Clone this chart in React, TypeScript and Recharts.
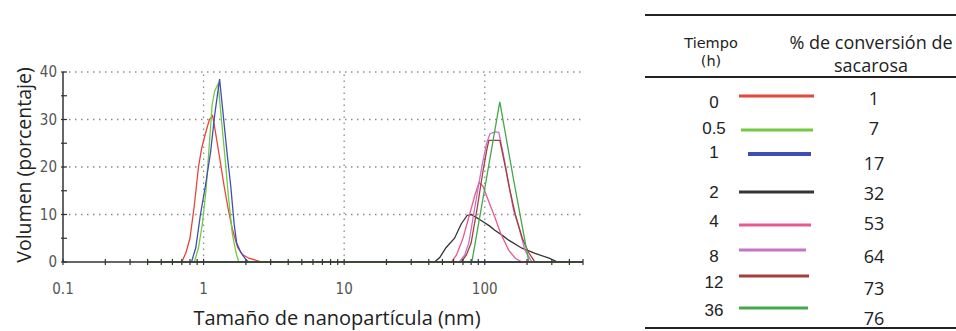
import { LineChart, Line, XAxis, YAxis, ReferenceLine } from "recharts";

// time (h) and sucrose conversion (%) for the legend table
const times = ["0", "0.5", "1", "2", "4", "8", "12", "36"];
const conversions = ["1", "7", "17", "32", "53", "64", "73", "76"];
const colors = ["#e5463a", "#74c944", "#3e4fb4", "#363636", "#ea5890", "#c774c4", "#a3403c", "#45a84c"];

// particle size (nm) and volume (%) per series
const h0Size = [0.4, 0.7, 0.75, 0.8, 0.86, 0.92, 0.97, 1.03, 1.1, 1.16, 1.22, 1.3, 1.4, 1.5, 1.6, 1.75, 1.9, 2.1, 2.4, 2.6, 500];
const h0Vol = [0, 0, 2, 5, 12, 20, 24, 27, 30, 30.8, 27, 22, 16, 11, 7, 3, 1.5, 0.8, 0.3, 0, 0];
const h05Size = [0.4, 0.86, 0.92, 0.98, 1.04, 1.1, 1.15, 1.2, 1.27, 1.33, 1.42, 1.5, 1.6, 1.7, 1.78, 500];
const h05Vol = [0, 0, 3, 8, 15, 25, 33, 36, 37.5, 31, 22, 14, 6, 2, 0, 0];
const h1Size = [0.4, 0.82, 0.88, 0.95, 1.03, 1.12, 1.2, 1.3, 1.39, 1.48, 1.56, 1.65, 1.72, 1.84, 2.0, 2.1, 500];
const h1Vol = [0, 0, 3, 10, 16, 23, 31, 38.5, 30, 22, 16, 8, 4, 2, 0.5, 0, 0];
const h2Size = [0.4, 44, 48, 53, 61, 68, 75, 80, 88, 95, 108, 118, 135, 148, 184, 228, 287, 330, 500];
const h2Vol = [0, 0, 1, 3, 5, 8, 9.8, 10, 9.3, 8.7, 7.6, 6.7, 5.5, 4.6, 2.9, 1.8, 0.8, 0, 0];
const h4Size = [0.4, 58, 63, 70, 78, 85, 91, 97, 106, 118, 130, 148, 165, 184, 500];
const h4Vol = [0, 0, 1.5, 5, 10, 14, 16.7, 16, 13, 9.4, 6, 2.5, 0.8, 0, 0];
const h8Size = [0.4, 66, 72, 77, 85, 95, 103, 109, 118, 126, 135, 148, 160, 175, 193, 217, 500];
const h8Vol = [0, 0, 1.5, 4, 11.5, 19.8, 25, 27, 27.4, 27.3, 23, 16.5, 11, 7.3, 2.5, 0, 0];
const h12Size = [0.4, 68, 74, 80, 88, 97, 104, 107, 128, 138, 150, 165, 185, 205, 228, 500];
const h12Vol = [0, 0, 1.5, 4, 11, 19, 24, 25.6, 25.6, 21, 15.5, 10, 5, 2, 0, 0];
const h36Size = [0.4, 81, 100, 128, 160, 206, 500];
const h36Vol = [0, 0, 15.5, 33.7, 17.5, 0, 0];

const sizes = [h0Size, h05Size, h1Size, h2Size, h4Size, h8Size, h12Size, h36Size];
const vols = [h0Vol, h05Vol, h1Vol, h2Vol, h4Vol, h8Vol, h12Vol, h36Vol];

const xTicks = [
  0.1, 0.2, 0.3, 0.4, 0.5, 0.6, 0.7, 0.8, 0.9,
  1, 2, 3, 4, 5, 6, 7, 8, 9,
  10, 20, 30, 40, 50, 60, 70, 80, 90,
  100, 200, 300, 400, 500,
];
const xLabels = [0.1, 1, 10, 100];
const yTicks = [0, 5, 10, 15, 20, 25, 30, 35, 40];
const yLabels = [0, 10, 20, 30, 40];

const series = sizes.map((s, i) => ({
  name: times[i],
  color: colors[i],
  data: s.map((x, j) => ({ x, v: vols[i][j] })),
}));

const tickFont = "'Liberation Sans Narrow', 'DejaVu Sans Condensed', sans-serif";
const titleFont = "'Open Sans', sans-serif";
const headFont = "'DejaVu Sans', sans-serif";
const numFont = "'Liberation Sans', sans-serif";

const XTick = ({ x, y, payload }: any) => (
  <g>
    <line x1={x} x2={x} y1={y - 3} y2={y + 3} stroke="#333" strokeWidth={1.2} />
    {xLabels.includes(payload.value) && (
      <text x={x} y={y + 32} textAnchor="middle" fontSize={15} fill="#555" fontFamily={tickFont}>
        {payload.value}
      </text>
    )}
  </g>
);

const YTick = ({ x, y, payload }: any) => (
  <g>
    <line x1={x - 2} x2={x + 4} y1={y} y2={y} stroke="#333" strokeWidth={1.2} />
    {yLabels.includes(payload.value) && (
      <text x={x - 6} y={y} dy={5} textAnchor="end" fontSize={15} fill="#555" fontFamily={tickFont}>
        {payload.value}
      </text>
    )}
  </g>
);

const YTitle = ({ viewBox }: any) => (
  <text
    x={0}
    y={0}
    transform={`translate(${viewBox.x + 5}, ${viewBox.y + viewBox.height / 2 - 2}) rotate(-90)`}
    textAnchor="middle"
    dominantBaseline="central"
    fontSize={19.5}
    fill="#222"
    fontFamily={titleFont}
  >
    Volumen (porcentaje)
  </text>
);

const XTitle = ({ viewBox }: any) => (
  <text
    x={viewBox.x + viewBox.width / 2 + 14}
    y={viewBox.y + 63}
    textAnchor="middle"
    fontSize={20}
    fill="#222"
    fontFamily={titleFont}
  >
    Tamaño de nanopartícula (nm)
  </text>
);

const rowTimeY = [108, 134, 158, 198, 227, 262, 288, 316];
const rowValY = [105, 135, 170, 200, 230, 263, 295, 325];
const rowLineY = [96, 130, 154, 192, 225, 250, 276, 308];
const rowLineX = [
  [739, 814], [741, 813], [748, 811], [739, 814],
  [739, 811], [739, 806], [739, 809], [739, 808],
];

const LegendTable = () => (
  <svg width={956} height={331} style={{ position: "absolute", left: 0, top: 0, pointerEvents: "none" }}>
    <line x1={645} x2={956} y1={15} y2={15} stroke="#222" strokeWidth={2} />
    <line x1={645} x2={956} y1={77} y2={77} stroke="#222" strokeWidth={2} />
    <line x1={645} x2={956} y1={328} y2={328} stroke="#222" strokeWidth={2} />
    <text x={711} y={48} textAnchor="middle" fontSize={14.5} fill="#222" fontFamily={headFont}>Tiempo</text>
    <text x={711} y={66} textAnchor="middle" fontSize={14.5} fill="#222" fontFamily={headFont}>(h)</text>
    <text x={871} y={49} textAnchor="middle" fontSize={18} fill="#222" fontFamily={titleFont}>% de conversión de</text>
    <text x={871} y={72} textAnchor="middle" fontSize={18} fill="#222" fontFamily={titleFont}>sacarosa</text>
    {times.map((t, i) => (
      <g key={t}>
        <text x={714} y={rowTimeY[i]} textAnchor="middle" fontSize={17} fill="#222" fontFamily={numFont}>
          {t}
        </text>
        <line
          x1={rowLineX[i][0]}
          x2={rowLineX[i][1]}
          y1={rowLineY[i]}
          y2={rowLineY[i]}
          stroke={colors[i]}
          strokeWidth={i === 2 ? 4 : 3}
        />
        <text x={874} y={rowValY[i]} textAnchor="middle" fontSize={18} fill="#222" fontFamily={titleFont}>
          {conversions[i]}
        </text>
      </g>
    ))}
  </svg>
);

export default function App() {
  return (
    <div style={{ position: "absolute", left: 0, top: 0, width: 956, height: 331, background: "#fff" }}>
      <LineChart width={956} height={331} margin={{ top: 72, right: 373, bottom: 29, left: 18 }}>
        <XAxis
          dataKey="x"
          type="number"
          scale="log"
          domain={[0.1, 500]}
          allowDataOverflow
          ticks={xTicks}
          interval={0}
          tick={<XTick />}
          tickSize={0}
          tickMargin={0}
          tickLine={false}
          axisLine={{ stroke: "#333", strokeWidth: 1.5 }}
          height={40}
          label={<XTitle />}
        />
        <YAxis
          type="number"
          domain={[0, 40]}
          ticks={yTicks}
          interval={0}
          tick={<YTick />}
          tickSize={0}
          tickMargin={0}
          tickLine={false}
          axisLine={{ stroke: "#333", strokeWidth: 1.5 }}
          width={45}
          label={<YTitle />}
        />
        {[10, 20, 30, 40].map((v) => (
          <ReferenceLine key={`h${v}`} y={v} stroke="#8a8a8a" strokeWidth={1.3} strokeDasharray="1.5 4.5" />
        ))}
        {[1, 10, 100].map((v) => (
          <ReferenceLine key={`v${v}`} x={v} stroke="#8a8a8a" strokeWidth={1.3} strokeDasharray="1.5 4.5" />
        ))}
        {series.map((s) => (
          <Line
            key={s.name}
            data={s.data}
            dataKey="v"
            type="linear"
            stroke={s.color}
            strokeWidth={1.3}
            dot={false}
            activeDot={false}
            isAnimationActive={false}
          />
        ))}
      </LineChart>
      <LegendTable />
    </div>
  );
}
